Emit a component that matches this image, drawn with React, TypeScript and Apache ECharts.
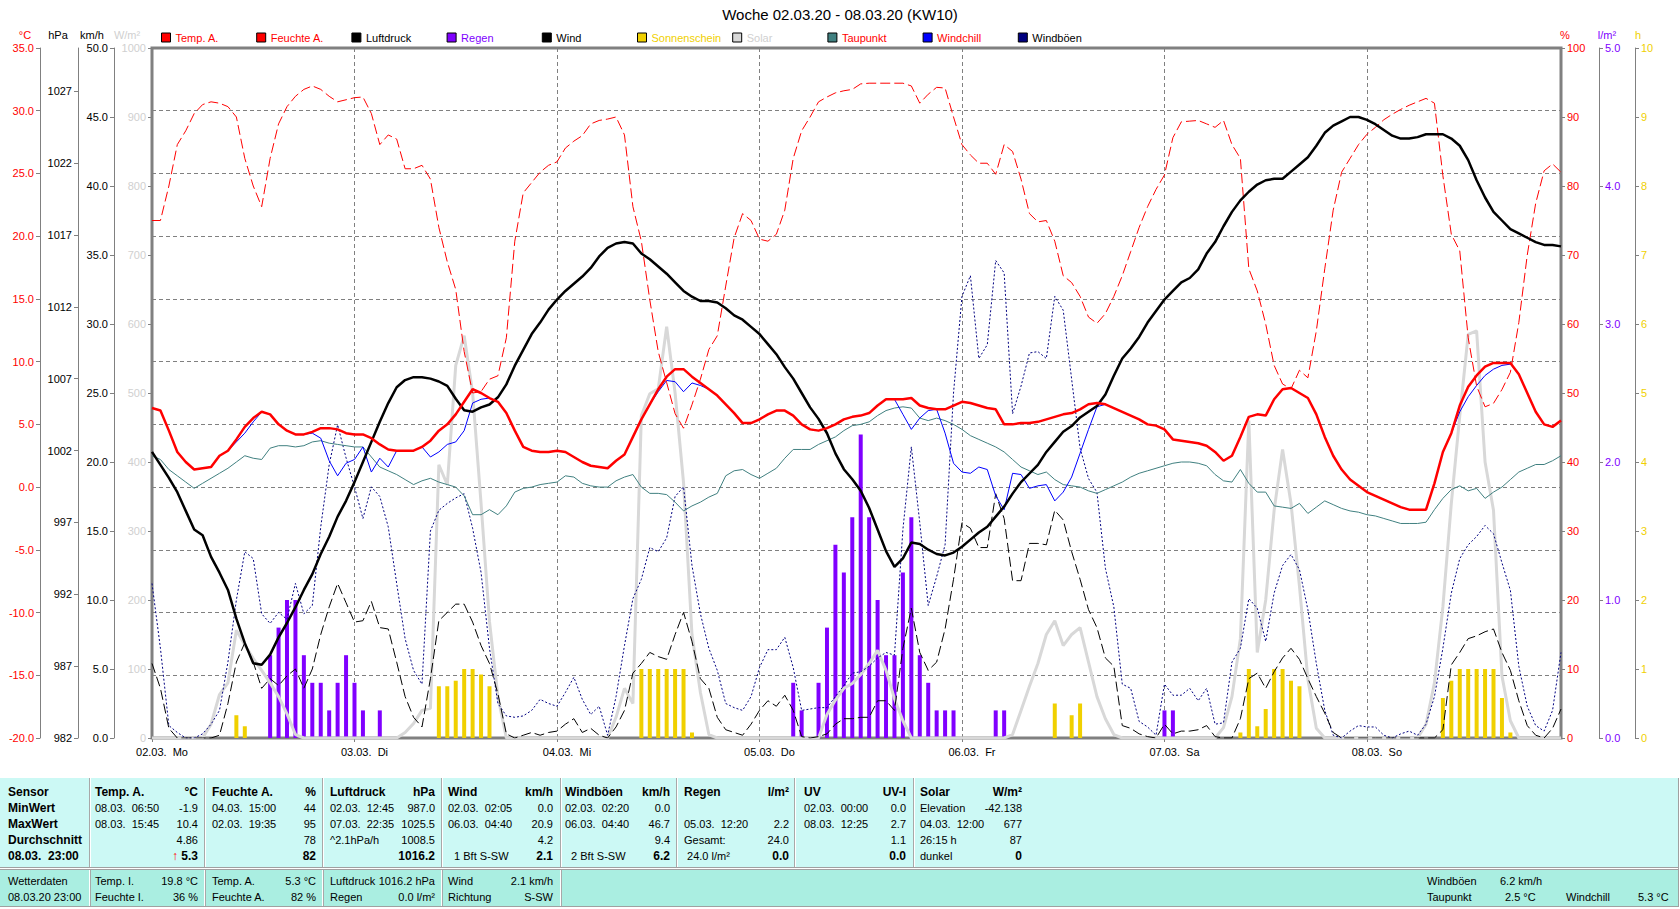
import React, { useEffect, useRef } from 'react';
import * as echarts from 'echarts';

const FONT_FAMILY = '"Liberation Sans", Arial, Helvetica, sans-serif';
const F11 = `11px ${FONT_FAMILY}`;
const F12B = `bold 12px ${FONT_FAMILY}`;

const TITLE = 'Woche 02.03.20 - 08.03.20 (KW10)';
const DAY_DATES = ['02.03.', '03.03.', '04.03.', '05.03.', '06.03.', '07.03.', '08.03.'];
const DAY_NAMES = ['Mo', 'Di', 'Mi', 'Do', 'Fr', 'Sa', 'So'];

// Hourly values, one row per day (00:00 .. 23:00)
const TEMP_A = [
  6.3, 6.1, 4.5, 2.8, 2.0, 1.4, 1.5, 1.6, 2.5, 2.9, 3.8, 4.8, 5.5, 6.0, 5.8, 5.0, 4.5, 4.2, 4.2, 4.4, 4.7, 4.7, 4.6, 4.3,
  4.2, 4.2, 3.9, 3.4, 3.0, 2.9, 2.9, 2.9, 3.2, 3.7, 4.5, 5.0, 5.8, 6.8, 7.8, 7.5, 7.1, 6.8, 5.9, 4.5, 3.2, 2.9, 2.8, 2.8,
  2.9, 2.8, 2.4, 2.0, 1.7, 1.6, 1.5, 2.1, 2.6, 4.0, 5.4, 6.6, 7.8, 8.8, 9.4, 9.4, 8.8, 8.3, 7.8, 7.3, 6.6, 5.9, 5.1, 5.1,
  5.4, 5.8, 6.1, 6.1, 5.7, 5.0, 4.6, 4.5, 4.7, 5.0, 5.4, 5.6, 5.7, 5.9, 6.5, 7.0, 7.0, 7.0, 7.1, 6.5, 6.3, 6.2, 6.2, 6.5,
  6.8, 6.7, 6.5, 6.3, 6.2, 5.0, 5.0, 5.1, 5.1, 5.2, 5.4, 5.6, 5.8, 5.9, 6.2, 6.6, 6.7, 6.6, 6.3, 6.0, 5.7, 5.4, 5.0, 4.9,
  4.6, 3.8, 3.7, 3.6, 3.5, 3.3, 2.8, 2.1, 2.5, 4.0, 5.6, 5.8, 5.7, 7.0, 7.8, 7.9, 7.5, 7.1, 5.8, 4.0, 2.5, 1.4, 0.6, 0.1,
  -0.4, -0.7, -1.0, -1.3, -1.6, -1.8, -1.8, -1.8, 0.3, 2.8, 4.3, 6.5, 8.0, 8.9, 9.6, 9.9, 9.9, 9.9, 9.0, 7.5, 6.0, 5.0, 4.8, 5.3,
];

const WINDCHILL = [
  6.3, 6.1, 4.5, 2.8, 2.0, 1.4, 1.5, 1.6, 2.5, 2.9, 3.6, 4.3, 5.2, 6.0, 5.8, 5.0, 4.5, 4.2, 4.2, 4.3, 3.9, 2.1, 0.9, 1.9,
  2.2, 3.2, 1.2, 2.3, 1.6, 2.9, 2.9, 2.9, 3.2, 2.4, 2.8, 3.4, 3.6, 4.5, 6.7, 7.0, 7.1, 6.8, 5.9, 4.5, 3.2, 2.9, 2.8, 2.8,
  2.9, 2.8, 2.4, 2.0, 1.7, 1.6, 1.5, 2.1, 2.6, 4.0, 5.4, 6.6, 7.6, 8.5, 8.4, 7.6, 8.3, 8.1, 7.8, 7.3, 6.6, 5.9, 5.1, 5.1,
  5.4, 5.8, 6.1, 6.1, 5.7, 5.0, 4.6, 4.5, 4.7, 5.0, 5.4, 5.6, 5.7, 5.9, 6.5, 7.0, 7.0, 5.8, 4.6, 5.5, 6.1, 6.2, 4.3, 1.9,
  1.2, 1.1, 1.6, 1.4, -0.7, -1.8, 1.1, 1.0, -0.1, 0.1, 0.2, -1.1, -0.4, 0.8, 2.7, 4.6, 6.4, 6.6, 6.3, 6.0, 5.7, 5.4, 5.0, 4.9,
  4.6, 3.8, 3.7, 3.6, 3.5, 3.3, 2.8, 2.1, 2.5, 4.0, 5.6, 5.8, 5.7, 7.0, 7.8, 7.9, 7.5, 7.1, 5.8, 4.0, 2.5, 1.4, 0.6, 0.1,
  -0.4, -0.7, -1.0, -1.3, -1.6, -1.8, -1.8, -1.8, 0.3, 2.8, 4.3, 6.0, 7.2, 8.1, 8.9, 9.4, 9.7, 9.8, 9.0, 7.5, 6.0, 5.0, 4.8, 5.3,
];

const TAUPUNKT = [
  2.5, 2.2, 1.4, 0.9, 0.4, -0.1, 0.3, 0.7, 1.1, 1.5, 2.0, 2.5, 2.3, 2.2, 3.1, 3.3, 3.3, 3.2, 3.3, 3.6, 3.7, 3.5, 3.4, 3.3,
  3.2, 3.2, 2.4, 1.6, 1.3, 1.0, 0.6, 0.2, 0.5, 0.7, 0.4, 0.2, 0.0, -0.7, -2.2, -2.2, -1.8, -2.2, -1.5, -0.4, -0.1, 0.0, 0.2, 0.3,
  0.4, 0.9, 0.8, 0.3, 0.1, 0.0, 0.0, 0.5, 0.8, 1.0, 0.0, -0.5, -0.5, -0.6, -1.2, -1.9, -1.5, -1.2, -0.8, -0.5, 0.9, 1.3, 1.4, 1.0,
  0.7, 1.1, 1.5, 2.3, 3.0, 3.0, 3.0, 3.4, 3.7, 4.0, 4.5, 4.9, 5.0, 5.2, 5.7, 6.1, 6.3, 6.4, 6.3, 5.5, 5.3, 5.5, 5.3, 5.0,
  4.6, 4.1, 3.8, 3.5, 3.2, 2.8, 2.2, 1.6, 1.3, 1.0, 1.2, 0.6, 0.2, 0.1, 0.0, -0.3, -0.5, -0.2, 0.1, 0.4, 0.8, 1.1, 1.3, 1.5,
  1.7, 1.9, 2.0, 2.0, 1.9, 1.7, 1.0, 0.5, 0.4, 1.4, 0.3, -0.4, -0.4, -1.5, -1.6, -1.7, -1.3, -2.1, -1.6, -1.1, -1.4, -1.7, -1.9, -2.0,
  -2.2, -2.3, -2.5, -2.7, -2.9, -2.9, -2.9, -2.8, -1.8, -0.9, -0.2, 0.1, -0.3, -0.1, -0.9, -0.4, 0.0, 0.6, 1.2, 1.5, 1.8, 1.8, 2.1, 2.5,
];

const FEUCHTE_A = [
  75, 75, 80, 86, 88, 90.5, 91.8, 92.2, 92, 91.5, 90, 84, 80, 77, 84, 89, 91.5, 93, 94, 94.5, 94, 93, 92.2, 92.5,
  92.8, 92.9, 90.5, 86, 87.4, 86.8, 82.5, 82.5, 83, 81, 74, 69, 65, 56, 50, 50.2, 52, 52.5, 58, 72, 79, 80.5, 82, 83,
  83.5, 85.5, 86.5, 87.3, 89, 89.5, 89.7, 90, 87.4, 77, 72, 63.5, 56, 51.5, 47, 44.9, 48.3, 52, 56.3, 58.3, 65.5, 72.5, 76, 75,
  72.3, 72, 73, 76.5, 84, 88, 90, 92.2, 92.9, 93.5, 93.8, 94, 94.8, 94.9, 94.9, 94.9, 94.9, 94.9, 94.5, 92, 93.3, 94.3, 94.2, 90,
  86, 84.5, 83.3, 83.3, 81.7, 86, 85, 81, 76, 74.8, 75, 72, 67, 66, 64, 61, 60.1, 61.5, 64, 67, 70.5, 74, 77, 79.5,
  81.6, 87, 89.3, 89.4, 89.5, 89, 88.5, 89.5, 86, 84, 68, 64.8, 60, 54, 51.3, 50.6, 53.3, 52.2, 59, 68, 76.5, 82, 84, 86,
  87.5, 88.5, 89.6, 90.4, 91.1, 91.7, 92.2, 92.7, 92, 81.5, 73, 70.6, 58, 51, 48, 48.5, 50.5, 53, 60.2, 70, 77.5, 82.2, 83.2, 82,
];

const LUFTDRUCK = [
  1001.9, 1001.0, 1000.1, 999.1, 997.8, 996.5, 996.1, 994.6, 993.5, 992.3, 990.3, 988.6, 987.2, 987.1, 987.8, 989.0, 990.0, 991.1, 992.3, 993.4, 994.8, 996.0, 997.4, 998.5,
  999.8, 1001.2, 1002.6, 1004.0, 1005.3, 1006.4, 1006.9, 1007.1, 1007.1, 1007.0, 1006.8, 1006.5, 1005.6, 1004.8, 1004.7, 1005.0, 1005.2, 1005.7, 1006.6, 1007.9, 1009.0, 1010.1, 1010.9, 1011.8,
  1012.5, 1013.1, 1013.6, 1014.1, 1014.7, 1015.5, 1016.1, 1016.4, 1016.5, 1016.4, 1015.7, 1015.3, 1014.8, 1014.3, 1013.7, 1013.1, 1012.7, 1012.4, 1012.4, 1012.3, 1011.9, 1011.4, 1011.1, 1010.6,
  1010.1, 1009.4, 1008.7, 1007.8, 1007.0, 1006.0, 1005.0, 1004.2, 1003.2, 1001.8, 1000.7, 1000.0, 999.2, 998.0, 996.5, 995.0, 993.9, 994.5, 995.6, 995.5, 995.1, 994.8, 994.7, 994.9,
  995.3, 995.8, 996.3, 996.7, 997.4, 998.1, 999.0, 999.8, 1000.4, 1001.0, 1001.9, 1002.6, 1003.3, 1003.7, 1004.3, 1004.7, 1005.1, 1005.9, 1007.2, 1008.4, 1009.1, 1009.9, 1010.9, 1011.7,
  1012.5, 1013.1, 1013.7, 1014.0, 1014.6, 1015.7, 1016.5, 1017.6, 1018.6, 1019.4, 1020.0, 1020.5, 1020.8, 1020.9, 1020.9, 1021.4, 1021.9, 1022.4, 1023.2, 1024.1, 1024.6, 1024.9, 1025.2, 1025.2,
  1025.0, 1024.7, 1024.3, 1023.9, 1023.7, 1023.7, 1023.8, 1024.0, 1024.0, 1024.0, 1023.7, 1023.2, 1022.2, 1020.8, 1019.6, 1018.6, 1018.0, 1017.4, 1017.1, 1016.8, 1016.5, 1016.3, 1016.3, 1016.2,
];

const WIND = [
  5.4, 3.6, 0.7, 0.0, 0.0, 0.0, 0.0, 0.0, 0.2, 2.5, 5.5, 6.9, 5.5, 3.6, 4.3, 3.8, 4.5, 5.0, 3.6, 5.0, 7.5, 9.5, 11.2, 9.8,
  8.4, 8.5, 9.9, 8.0, 7.9, 5.5, 3.0, 1.5, 0.8, 4.3, 8.5, 9.1, 9.7, 9.7, 8.4, 6.7, 5.4, 3.2, 0.3, 0.0, 0.2, 0.4, 0.2, 0.4,
  0.5, 1.0, 1.4, 0.4, 0.7, 0.2, 0.0, 0.8, 2.0, 4.7, 5.4, 6.2, 5.9, 5.7, 7.5, 9.1, 7.0, 4.3, 3.6, 1.5, 0.6, 0.4, 0.2, 1.0,
  2.0, 2.7, 2.3, 3.1, 2.0, 0.1, 0.0, 0.1, 0.3, 1.0, 1.4, 1.4, 1.5, 1.5, 2.7, 2.7, 2.0, 6.5, 9.4, 6.2, 4.9, 5.5, 7.9, 11.5,
  15.6, 15.2, 13.8, 13.8, 17.7, 15.9, 11.4, 11.4, 14.1, 14.1, 14.0, 16.5, 15.8, 13.5, 11.5, 9.3, 8.0, 5.8, 5.2, 0.9, 0.7, 0.3, 0.1, 0.0,
  1.0, 0.3, 0.5, 0.5, 0.6, 0.9, 0.1, 0.0, 0.0, 1.4, 4.3, 4.7, 3.6, 4.8, 5.8, 6.5, 5.7, 4.3, 3.0, 1.8, 0.4, 0.0, 0.0, 0.0,
  0.0, 0.0, 0.0, 0.0, 0.0, 0.0, 0.0, 0.0, 0.0, 0.6, 5.3, 6.2, 7.2, 7.4, 7.7, 7.9, 6.2, 4.9, 2.7, 0.9, 0.2, 0.0, 0.7, 2.1,
];

const WINDBOEEN = [
  11.2, 6.5, 0.9, 0.4, 0.0, 0.0, 0.3, 1.0, 2.0, 5.5, 10.0, 13.5, 13.0, 9.0, 8.3, 9.1, 8.6, 11.2, 9.0, 9.6, 15.3, 19.8, 22.7, 20.3,
  18.2, 15.9, 18.2, 17.5, 15.3, 11.2, 7.2, 4.9, 3.9, 15.0, 16.5, 17.0, 17.4, 17.7, 15.2, 12.0, 6.5, 2.5, 1.6, 1.5, 1.6, 2.0, 2.8, 2.5,
  2.3, 3.3, 4.4, 2.8, 1.7, 2.3, 0.2, 3.0, 6.7, 10.1, 11.5, 13.8, 13.5, 14.5, 17.5, 18.2, 12.5, 9.0, 6.5, 4.9, 2.5, 2.2, 2.0, 3.0,
  5.1, 6.4, 6.4, 7.3, 5.1, 2.0, 2.1, 2.2, 2.2, 3.0, 3.8, 4.7, 4.8, 5.2, 5.8, 6.2, 6.0, 15.1, 21.1, 15.6, 9.6, 11.7, 14.0, 25.0,
  32.0, 33.5, 27.5, 28.5, 34.6, 33.7, 23.5, 25.5, 27.9, 28.0, 27.5, 32.0, 31.0, 26.0, 21.0, 18.8, 17.8, 12.3, 9.5, 3.9, 3.6, 1.2, 0.8, 0.2,
  3.9, 3.1, 3.1, 3.6, 2.7, 3.6, 1.0, 1.1, 5.5, 6.5, 10.1, 9.4, 7.0, 10.5, 12.5, 13.3, 12.2, 9.3, 5.4, 2.0, 0.2, 0.0, 0.5, 0.9,
  0.8, 0.8, 0.2, 0.0, 0.3, 0.5, 0.2, 1.0, 3.0, 6.5, 10.5, 13.0, 14.0, 14.6, 15.4, 14.8, 12.7, 10.7, 5.2, 2.3, 0.9, 0.5, 2.0, 6.2,
];

const SOLAR = [
  0, 0, 0, 0, 0, 0, 0, 20, 63, 80, 156, 135, 115, 98, 80, 60, 35, 5, 0, 0, 0, 0, 0, 0,
  0, 0, 0, 0, 0, 0, 8, 21, 40, 43, 396, 367, 540, 583, 500, 340, 169, 60, 0, 0, 0, 0, 0, 0,
  0, 0, 0, 0, 0, 0, 0, 30, 72, 50, 467, 499, 506, 596, 500, 370, 150, 66, 5, 0, 0, 0, 0, 0,
  0, 0, 0, 0, 0, 0, 0, 0, 34, 55, 72, 79, 92, 108, 127, 98, 57, 25, 0, 0, 0, 0, 0, 0,
  0, 0, 0, 0, 0, 0, 5, 40, 75, 108, 150, 170, 134, 150, 160, 110, 60, 28, 5, 0, 0, 0, 0, 0,
  0, 0, 0, 0, 0, 0, 0, 15, 60, 144, 460, 124, 200, 330, 418, 340, 220, 85, 14, 0, 0, 0, 0, 0,
  0, 0, 0, 0, 0, 0, 0, 20, 80, 190, 340, 467, 585, 590, 400, 330, 90, 25, 0, 0, 0, 0, 0, 0,
];

const REGEN = [
  0, 0, 0, 0, 0, 0, 0, 0, 0, 0, 0, 0, 0, 0, 0.6, 0.8, 1.0, 1.0, 0.6, 0.4, 0.4, 0.2, 0.4, 0.6,
  0.4, 0.2, 0, 0.2, 0, 0, 0, 0, 0, 0, 0, 0, 0, 0, 0, 0, 0, 0, 0, 0, 0, 0, 0, 0,
  0, 0, 0, 0, 0, 0, 0, 0, 0, 0, 0, 0, 0, 0, 0, 0, 0, 0, 0, 0, 0, 0, 0, 0,
  0, 0, 0, 0, 0.4, 0.2, 0, 0.4, 0.8, 1.4, 1.2, 1.6, 2.2, 1.6, 1.0, 0.6, 0.6, 1.2, 1.6, 0.6, 0.4, 0.2, 0.2, 0.2,
  0, 0, 0, 0, 0.2, 0.2, 0, 0, 0, 0, 0, 0, 0, 0, 0, 0, 0, 0, 0, 0, 0, 0, 0, 0,
  0.2, 0.2, 0, 0, 0, 0, 0, 0, 0, 0, 0, 0, 0, 0, 0, 0, 0, 0, 0, 0, 0, 0, 0, 0,
  0, 0, 0, 0, 0, 0, 0, 0, 0, 0, 0, 0, 0, 0, 0, 0, 0, 0, 0, 0, 0, 0, 0, 0,
];

const SONNENSCHEIN = [
  0, 0, 0, 0, 0, 0, 0, 0, 0, 0, 0.33, 0.17, 0, 0, 0, 0, 0, 0, 0, 0, 0, 0, 0, 0,
  0, 0, 0, 0, 0, 0, 0, 0, 0, 0, 0.75, 0.75, 0.83, 1.0, 1.0, 0.92, 0.75, 0, 0, 0, 0, 0, 0, 0,
  0, 0, 0, 0, 0, 0, 0, 0, 0, 0, 1.0, 1.0, 1.0, 1.0, 1.0, 1.0, 0.08, 0, 0, 0, 0, 0, 0, 0,
  0, 0, 0, 0, 0, 0, 0, 0, 0, 0, 0, 0, 0, 0, 0, 0, 0, 0, 0, 0, 0, 0, 0, 0,
  0, 0, 0, 0, 0, 0, 0, 0, 0, 0, 0, 0.5, 0, 0.33, 0.5, 0, 0, 0, 0, 0, 0, 0, 0, 0,
  0, 0, 0, 0, 0, 0, 0, 0, 0, 0.08, 1.0, 0.17, 0.42, 1.0, 1.0, 0.83, 0.75, 0, 0, 0, 0, 0, 0, 0,
  0, 0, 0, 0, 0, 0, 0, 0, 0, 0.58, 0.83, 1.0, 1.0, 1.0, 1.0, 1.0, 0.58, 0.08, 0, 0, 0, 0, 0, 0,
];

const HPA_TICKS = [982, 987, 992, 997, 1002, 1007, 1012, 1017, 1022, 1027];

const LEGEND_ITEMS = [
  { name: 'Temp. A.', fill: '#ff0000', text: '#ff0000' },
  { name: 'Feuchte A.', fill: '#ff0000', text: '#ff0000' },
  { name: 'Luftdruck', fill: '#000000', text: '#000000' },
  { name: 'Regen', fill: '#8000ff', text: '#8000ff' },
  { name: 'Wind', fill: '#000000', text: '#000000' },
  { name: 'Sonnenschein', fill: '#f0d000', text: '#f0d000' },
  { name: 'Solar', fill: '#d8d8d8', text: '#d0d0d0' },
  { name: 'Taupunkt', fill: '#408080', text: '#ff0000' },
  { name: 'Windchill', fill: '#0000ff', text: '#ff0000' },
  { name: 'Windböen', fill: '#000080', text: '#000000' },
];

// Statistics table
const STAT_LABELS = ['Sensor', 'MinWert', 'MaxWert', 'Durchschnitt', '08.03.  23:00'];
const STAT_COLUMNS = [
  { head: ['Temp. A.', '°C'], rows: [['08.03.  06:50', '-1.9'], ['08.03.  15:45', '10.4'], ['', '4.86'], ['', '5.3']] },
  { head: ['Feuchte A.', '%'], rows: [['04.03.  15:00', '44'], ['02.03.  19:35', '95'], ['', '78'], ['', '82']] },
  { head: ['Luftdruck', 'hPa'], rows: [['02.03.  12:45', '987.0'], ['07.03.  22:35', '1025.5'], ['^2.1hPa/h', '1008.5'], ['', '1016.2']] },
  { head: ['Wind', 'km/h'], rows: [['02.03.  02:05', '0.0'], ['06.03.  04:40', '20.9'], ['', '4.2'], ['  1 Bft S-SW', '2.1']] },
  { head: ['Windböen', 'km/h'], rows: [['02.03.  02:20', '0.0'], ['06.03.  04:40', '46.7'], ['', '9.4'], ['  2 Bft S-SW', '6.2']] },
  { head: ['Regen', 'l/m²'], rows: [['', ''], ['05.03.  12:20', '2.2'], ['Gesamt:', '24.0'], [' 24.0 l/m²', '0.0']] },
  { head: ['UV', 'UV-I'], rows: [['02.03.  00:00', '0.0'], ['08.03.  12:25', '2.7'], ['', '1.1'], ['', '0.0']] },
  { head: ['Solar', 'W/m²'], rows: [['Elevation', '-42.138'], ['04.03.  12:00', '677'], ['26:15 h', '87'], ['dunkel', '0']] },
];
const COL_LEFT = [95, 212, 330, 448, 565, 684, 804, 920];
const COL_RIGHT = [198, 316, 435, 553, 670, 789, 906, 1022];
const COL_SEPS = [89, 204, 322, 441, 560, 676, 794, 913];
const ROW_Y = [792, 808, 823.5, 839.5, 855.5];

// Current readings strip: [text, x, align, line]
const CURRENT_CELLS: [string, number, 'left' | 'right', number][] = [
  ['Wetterdaten', 8, 'left', 0], ['08.03.20 23:00', 8, 'left', 1],
  ['Temp. I.', 95, 'left', 0], ['19.8 °C', 198, 'right', 0], ['Feuchte I.', 95, 'left', 1], ['36 %', 198, 'right', 1],
  ['Temp. A.', 212, 'left', 0], ['5.3 °C', 316, 'right', 0], ['Feuchte A.', 212, 'left', 1], ['82 %', 316, 'right', 1],
  ['Luftdruck', 330, 'left', 0], ['1016.2 hPa', 435, 'right', 0], ['Regen', 330, 'left', 1], ['0.0 l/m²', 435, 'right', 1],
  ['Wind', 448, 'left', 0], ['2.1 km/h', 553, 'right', 0], ['Richtung', 448, 'left', 1], ['S-SW', 553, 'right', 1],
  ['Windböen', 1427, 'left', 0], ['6.2 km/h', 1500, 'left', 0],
  ['Taupunkt', 1427, 'left', 1], ['2.5 °C', 1505, 'left', 1], ['Windchill', 1566, 'left', 1], ['5.3 °C', 1638, 'left', 1],
];
const CURRENT_Y = [880.5, 896.5];
const CURRENT_SEPS = [89, 204, 322, 441, 560];

const HOURS: string[] = [];
DAY_DATES.forEach((d) => {
  for (let h = 0; h < 24; h++) HOURS.push(`${d} ${String(h).padStart(2, '0')}:00`);
});

function txt(text: string, x: number, y: number, font: string, align: string, fill = '#000000') {
  return {
    type: 'text',
    silent: true,
    style: { text, x, y, font, fill, align, verticalAlign: 'middle', textAlign: align, textVerticalAlign: 'middle' },
  };
}

function vline(x: number, y1: number, y2: number, stroke: string) {
  return { type: 'line', silent: true, shape: { x1: x, y1, x2: x, y2 }, style: { stroke, lineWidth: 1 } };
}
function hline(y: number, x1: number, x2: number, stroke: string) {
  return { type: 'line', silent: true, shape: { x1, y1: y, x2, y2: y }, style: { stroke, lineWidth: 1 } };
}

function buildTable() {
  const els: any[] = [];
  els.push({ type: 'rect', silent: true, shape: { x: 0, y: 778, width: 1678, height: 89 }, style: { fill: '#ccf9f5' } });
  els.push({ type: 'rect', silent: true, shape: { x: 0, y: 869, width: 1678, height: 37 }, style: { fill: '#aaeee1' } });
  els.push(hline(867.5, 0, 1678, '#a0a0a0'));
  els.push(hline(869.5, 0, 1678, '#a0a0a0'));
  els.push(hline(906.5, 0, 1678, '#a0a0a0'));
  els.push(vline(1678.5, 778, 907, '#a0a0a0'));
  COL_SEPS.forEach((x) => {
    els.push(vline(x + 0.5, 778, 867, '#a8a8a8'));
    els.push(vline(x + 1.5, 778, 867, '#ffffff'));
  });
  CURRENT_SEPS.forEach((x) => {
    els.push(vline(x + 0.5, 870, 906, '#ffffff'));
    els.push(vline(x + 1.5, 870, 906, '#a8a8a8'));
  });
  STAT_LABELS.forEach((label, i) => els.push(txt(label, 8, ROW_Y[i], F12B, 'left')));
  STAT_COLUMNS.forEach((col, c) => {
    els.push(txt(col.head[0], COL_LEFT[c], ROW_Y[0], F12B, 'left'));
    els.push(txt(col.head[1], COL_RIGHT[c], ROW_Y[0], F12B, 'right'));
    col.rows.forEach((row, r) => {
      const last = r === col.rows.length - 1;
      if (row[0]) els.push(txt(row[0], COL_LEFT[c], ROW_Y[r + 1], F11, 'left'));
      if (row[1]) els.push(txt(row[1], COL_RIGHT[c], ROW_Y[r + 1], last ? F12B : F11, 'right'));
    });
  });
  // rising trend marker in front of the current outdoor temperature
  els.push(txt('↑', 178, ROW_Y[4], F12B, 'right', '#ff0000'));
  CURRENT_CELLS.forEach(([t, x, align, line]) => els.push(txt(t, x, CURRENT_Y[line], F11, align)));
  return els;
}

function valueAxis(p: any) {
  return {
    type: 'value',
    position: p.position,
    offset: p.offset,
    min: p.min,
    max: p.max,
    interval: p.interval,
    name: p.name,
    nameLocation: 'end',
    nameGap: 8,
    nameTextStyle: { color: p.nameColor ?? p.color, fontSize: 11, fontFamily: FONT_FAMILY, padding: p.namePad },
    axisLine: { show: p.line !== false, onZero: false, lineStyle: { color: '#808080', width: 1 } },
    axisTick: { show: true, length: 4, lineStyle: { color: '#808080' }, customValues: p.custom },
    axisLabel: {
      color: p.color,
      fontSize: 11,
      fontFamily: FONT_FAMILY,
      margin: 6,
      customValues: p.custom,
      formatter: (v: number) => v.toFixed(p.decimals),
    },
    splitLine: { show: !!p.split, lineStyle: { color: '#808080', type: [4, 3], width: 1 } },
  };
}

function buildOption() {
  const lineBase = { type: 'line', symbol: 'none', smooth: false, animation: false };
  return {
    animation: false,
    backgroundColor: '#ffffff',
    title: {
      text: TITLE,
      left: 'center',
      top: 7,
      padding: 0,
      textStyle: { fontSize: 15, fontWeight: 'normal', color: '#000000', fontFamily: FONT_FAMILY },
    },
    legend: LEGEND_ITEMS.map((it, i) => ({
      left: 161 + i * 95.2,
      top: 32,
      padding: 0,
      itemWidth: 9,
      itemHeight: 9,
      selectedMode: false,
      textStyle: { fontSize: 11, fontFamily: FONT_FAMILY, color: it.text },
      data: [
        {
          name: it.name,
          icon: 'rect',
          itemStyle: { color: it.fill, borderColor: '#000000', borderWidth: 1 },
          textStyle: { color: it.text },
        },
      ],
    })),
    grid: {
      left: 152,
      right: 119,
      top: 48,
      bottom: 171,
      show: true,
      borderColor: '#808080',
      borderWidth: 3,
      containLabel: false,
    },
    xAxis: {
      type: 'category',
      data: HOURS,
      boundaryGap: false,
      axisLine: { show: true, onZero: false, lineStyle: { color: '#808080', width: 2 } },
      axisTick: { show: true, interval: 23, length: 4, lineStyle: { color: '#808080' } },
      axisLabel: {
        interval: 23,
        color: '#000000',
        fontSize: 11,
        fontFamily: FONT_FAMILY,
        margin: 8,
        padding: [0, 0, 0, 20],
        formatter: (_v: string, idx: number) => {
          const d = Math.floor(idx / 24);
          return `${DAY_DATES[d]}  ${DAY_NAMES[d]}`;
        },
      },
      splitLine: { show: true, interval: 23, lineStyle: { color: '#808080', type: [4, 3], width: 1 } },
    },
    yAxis: [
      valueAxis({ position: 'left', offset: 112, min: -20, max: 35, interval: 5, color: '#ff0000', name: '°C', namePad: [0, 30, 0, 0], decimals: 1, split: true }),
      valueAxis({ position: 'left', offset: 74, min: 982, max: 1030, color: '#000000', name: 'hPa', namePad: [0, 40, 0, 0], decimals: 0, custom: HPA_TICKS }),
      valueAxis({ position: 'left', offset: 38, min: 0, max: 50, interval: 5, color: '#000000', name: 'km/h', namePad: [0, 44, 0, 0], decimals: 1 }),
      valueAxis({ position: 'left', offset: 0, min: 0, max: 1000, interval: 100, color: '#d0d0d0', name: 'W/m²', namePad: [0, 50, 0, 0], decimals: 0, line: false }),
      valueAxis({ position: 'right', offset: 0, min: 0, max: 100, interval: 10, color: '#ff0000', name: '%', namePad: [0, 0, 0, 8], decimals: 0, line: false }),
      valueAxis({ position: 'right', offset: 38, min: 0, max: 5, interval: 1, color: '#8000ff', name: 'l/m²', namePad: [0, 0, 0, 16], decimals: 1 }),
      valueAxis({ position: 'right', offset: 74, min: 0, max: 10, interval: 1, color: '#f0d000', name: 'h', namePad: [0, 0, 0, 6], decimals: 0 }),
    ],
    series: [
      { ...lineBase, name: 'Solar', yAxisIndex: 3, data: SOLAR, lineStyle: { color: '#d8d8d8', width: 3 }, itemStyle: { color: '#d8d8d8' } },
      { type: 'bar', name: 'Sonnenschein', yAxisIndex: 6, data: SONNENSCHEIN, barWidth: 4, barGap: '-100%', itemStyle: { color: '#f0d000' } },
      { type: 'bar', name: 'Regen', yAxisIndex: 5, data: REGEN, barWidth: 4, barGap: '-100%', itemStyle: { color: '#8000ff' } },
      { ...lineBase, name: 'Windböen', yAxisIndex: 2, data: WINDBOEEN, lineStyle: { color: '#000080', width: 1, type: [2, 2] }, itemStyle: { color: '#000080' } },
      { ...lineBase, name: 'Wind', yAxisIndex: 2, data: WIND, lineStyle: { color: '#000000', width: 1, type: [10, 4] }, itemStyle: { color: '#000000' } },
      { ...lineBase, name: 'Taupunkt', yAxisIndex: 0, data: TAUPUNKT, lineStyle: { color: '#408080', width: 1 }, itemStyle: { color: '#408080' } },
      { ...lineBase, name: 'Windchill', yAxisIndex: 0, data: WINDCHILL, lineStyle: { color: '#0000ff', width: 1 }, itemStyle: { color: '#0000ff' } },
      { ...lineBase, name: 'Feuchte A.', yAxisIndex: 4, data: FEUCHTE_A, lineStyle: { color: '#ff0000', width: 1, type: [10, 4] }, itemStyle: { color: '#ff0000' } },
      { ...lineBase, name: 'Luftdruck', yAxisIndex: 1, data: LUFTDRUCK, lineStyle: { color: '#000000', width: 2.5 }, itemStyle: { color: '#000000' } },
      { ...lineBase, name: 'Temp. A.', yAxisIndex: 0, data: TEMP_A, lineStyle: { color: '#ff0000', width: 2.5 }, itemStyle: { color: '#ff0000' } },
    ],
    graphic: { elements: buildTable() },
  };
}

export default function App() {
  const ref = useRef<HTMLDivElement>(null);
  useEffect(() => {
    if (!ref.current) return;
    const chart = echarts.init(ref.current, undefined, { renderer: 'svg' });
    chart.setOption(buildOption() as any);
    return () => chart.dispose();
  }, []);
  return (
    <div
      ref={ref}
      style={{ position: 'fixed', left: 0, top: 0, width: 1680, height: 909, background: '#ffffff' }}
    />
  );
}
